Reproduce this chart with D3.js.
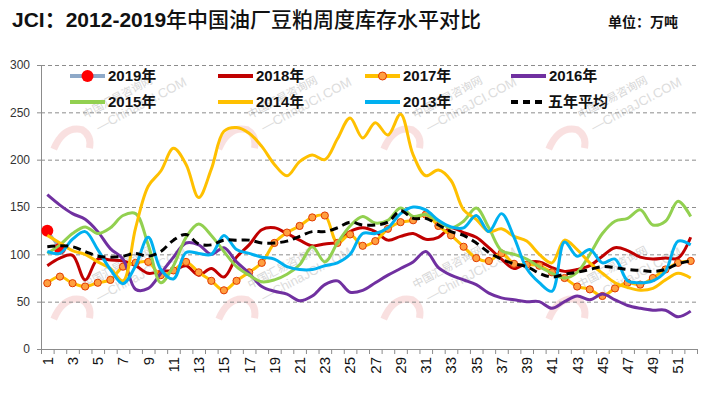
<!DOCTYPE html>
<html>
<head>
<meta charset="utf-8">
<script src="https://cdn.jsdelivr.net/npm/d3@7"></script>
<style>
  html, body { margin: 0; padding: 0; background: #fff; }
  svg { display: block; }
</style>
</head>
<body>
<div id="chart"></div>
<script>
const weeks = [1, 2, 3, 4, 5, 6, 7, 8, 9, 10, 11, 12, 13, 14, 15, 16, 17, 18, 19, 20,
  21, 22, 23, 24, 25, 26, 27, 28, 29, 30, 31, 32, 33, 34, 35, 36, 37, 38, 39, 40,
  41, 42, 43, 44, 45, 46, 47, 48, 49, 50, 51, 52];
const weekLabels = [1, 3, 5, 7, 9, 11, 13, 15, 17, 19, 21, 23, 25, 27, 29, 31, 33, 35, 37, 39, 41, 43, 45, 47, 49, 51];
const yTicks = [0, 50, 100, 150, 200, 250, 300];

const y2019 = [125, 106];
const y2018 = [88, 96, 99, 73, 95, 94, 93, 88, 80, 82, 83, 88, 78, 85, 76, 97, 110, 126, 128, 122,
  115, 109, 111, 113, 124, 128, 124, 115, 119, 122, 116, 118, 128, 123, 118, 107, 95, 85, 91, 92,
  86, 82, 84, 88, 98, 107, 104, 97, 95, 96, 96, 118];
const y2017 = [69.5, 76.5, 69.5, 66, 70, 73, 87, 91, 92, 78, 83, 92, 81, 72, 62, 72, 81, 91, 112, 123,
  130, 139, 141, 112, 121, 109, 114, 127, 134, 136, 142, 130, 120, 108, 96, 93, 101, 90, 89, 88,
  81, 75, 66, 63, 56, 64, 70, 68, 75, 84, 91, 93];
const y2016 = [163, 152, 143, 137, 124, 106, 95, 63, 64, 80, 97, 112, 110, 100, 107, 92, 80, 66, 61, 58,
  51, 56, 68, 72, 60, 62, 70, 78, 85, 92, 103, 86, 78, 73, 68, 59, 54, 52, 50, 50,
  43, 50, 56, 52, 58, 52, 46, 43, 41, 41, 34, 40];
const y2015 = [101, 110, 122, 129, 122, 128, 141, 143, 110, 70, 88, 118, 132, 120, 103, 87, 78, 71, 73, 79,
  89, 108, 92, 112, 130, 140, 133, 136, 149, 140, 142, 135, 128, 135, 149, 128, 104, 100, 95, 87,
  80, 75, 81, 100, 122, 135, 138, 147, 131, 135, 156, 140];
const y2014 = [120, 112, 104, 100, 92, 85, 72, 128, 172, 188, 212, 195, 160, 190, 230, 234, 228, 214, 195, 183,
  198, 205, 200, 222, 244, 223, 239, 226, 248, 205, 183, 189, 178, 147, 137, 124, 127, 119, 114, 100,
  91, 115, 105, 91, 80, 70, 65, 62, 64, 73, 80, 75];
const y2013 = [103, 101, 116, 124, 105, 84, 69, 88, 118, 84, 74, 102, 101, 100, 120, 105, 101, 97, 95, 87,
  84, 84, 88, 91, 100, 122, 122, 128, 143, 150, 147, 136, 129, 128, 141, 124, 143, 118, 85, 70,
  61, 113, 98, 105, 91, 95, 72, 70, 72, 82, 114, 110];
const yAvg = [108, 109, 108, 103, 98, 97, 98, 101, 98, 103, 115, 121, 111, 110, 115, 115, 115, 112, 112, 114,
  119, 124, 124, 128, 134, 131, 131, 134, 146, 138, 138, 131, 124, 120, 112, 102, 95, 90, 87, 80,
  76, 79, 81, 84, 87, 86, 84, 83, 82, 84, 90, 93];

const seriesNames = ['2019年', '2018年', '2017年', '2016年', '2015年', '2014年', '2013年', '五年平均'];

const W = 711, H = 397;
const plot = {left: 41, right: 697, top: 65, bottom: 349};
const latin = '"Liberation Sans", Arial, "Noto Sans CJK SC", sans-serif';
const cjk = '"Noto Sans CJK SC", "Liberation Sans", sans-serif';

const series = [
  {name: seriesNames[0], values: y2019, color: '#8EA9C8', width: 3, marker: 'big'},
  {name: seriesNames[1], values: y2018, color: '#C00000', width: 3},
  {name: seriesNames[2], values: y2017, color: '#FFC000', width: 3, marker: 'small'},
  {name: seriesNames[3], values: y2016, color: '#7030A0', width: 3},
  {name: seriesNames[4], values: y2015, color: '#92D050', width: 3},
  {name: seriesNames[5], values: y2014, color: '#FFC000', width: 3},
  {name: seriesNames[6], values: y2013, color: '#00B0F0', width: 3},
  {name: seriesNames[7], values: yAvg, color: '#000000', width: 3, dash: '8,5'}
];

const svg = d3.select('#chart').append('svg')
  .attr('width', W)
  .attr('height', H);

svg.append('rect').attr('width', W).attr('height', H).attr('fill', '#fff');

// faint site watermark
const wm = svg.append('g').attr('class', 'watermark');
[[70, 120], [235, 120], [400, 120], [565, 120], [70, 290], [235, 290], [400, 290], [565, 290]].forEach(p => {
  const g = wm.append('g').attr('transform', `translate(${p[0]},${p[1]}) rotate(-28)`);
  g.append('path')
    .attr('d', 'M-28,18 Q-8,2 6,14 Q12,24 4,34')
    .attr('fill', 'none')
    .attr('stroke', '#F4C6C6')
    .attr('stroke-width', 7)
    .attr('opacity', 0.55);
  g.append('text')
    .attr('x', 14).attr('y', 6)
    .attr('font-family', cjk).attr('font-size', 11)
    .attr('fill', '#d6d6d6')
    .text('中国汇易咨询网');
  g.append('text')
    .attr('x', 20).attr('y', 24)
    .attr('font-family', latin).attr('font-size', 13)
    .attr('fill', '#dcdcdc')
    .text('—ChinaJCI.COM');
});

// title
const title = svg.append('text').attr('x', 12).attr('y', 27).attr('font-size', 21).attr('fill', '#111');
title.append('tspan').attr('font-family', latin).attr('font-weight', 'bold').text('JCI：2012-2019');
title.append('tspan').attr('font-family', cjk).attr('font-weight', 500).text('年中国油厂豆粕周度库存水平对比');

svg.append('text')
  .attr('x', 608).attr('y', 27)
  .attr('font-family', cjk).attr('font-weight', 'bold').attr('font-size', 14)
  .attr('fill', '#111')
  .text('单位：万吨');

const x = d3.scaleBand()
  .domain(weeks)
  .range([plot.left, plot.right]);

const xb = d3.scaleLinear()
  .domain([0, weeks.length])
  .range([plot.left, plot.right]);

const y = d3.scaleLinear()
  .domain([0, 300])
  .range([plot.bottom, plot.top]);

// grid
svg.append('g')
  .attr('class', 'grid')
  .attr('transform', 'translate(' + plot.left + ',0)')
  .call(d3.axisLeft(y).tickValues(yTicks.slice(1)).tickSize(-(plot.right - plot.left)).tickFormat(''))
  .call(g => g.select('.domain').remove())
  .call(g => g.selectAll('line')
    .attr('stroke', '#8c8c8c')
    .attr('stroke-dasharray', '4,3'));

// y axis
svg.append('g')
  .attr('class', 'y-axis')
  .attr('transform', 'translate(' + plot.left + ',0)')
  .call(d3.axisLeft(y).tickValues(yTicks).tickSize(4).tickPadding(7))
  .call(g => g.select('.domain').attr('stroke', '#8c8c8c'))
  .call(g => g.selectAll('line').attr('stroke', '#8c8c8c'))
  .call(g => g.selectAll('text')
    .attr('font-family', latin)
    .attr('font-size', 12)
    .attr('fill', '#333'));

// x axis: boundary ticks
svg.append('g')
  .attr('class', 'x-axis')
  .attr('transform', 'translate(0,' + plot.bottom + ')')
  .call(d3.axisBottom(xb).tickValues(d3.range(0, weeks.length + 1)).tickSize(5).tickFormat('').tickSizeOuter(0))
  .call(g => g.select('.domain').attr('stroke', '#8c8c8c'))
  .call(g => g.selectAll('line').attr('stroke', '#8c8c8c'));

// x axis: rotated labels
svg.append('g')
  .attr('class', 'x-labels')
  .attr('transform', 'translate(0,' + plot.bottom + ')')
  .call(d3.axisBottom(x).tickValues(weekLabels).tickSize(0).tickPadding(0))
  .call(g => g.select('.domain').remove())
  .call(g => g.selectAll('text')
    .attr('font-family', latin)
    .attr('font-size', 15)
    .attr('fill', '#111')
    .attr('text-anchor', 'end')
    .attr('transform', 'rotate(-90)')
    .attr('x', -8)
    .attr('y', 0)
    .attr('dy', '0.36em'));

const cx = (d, i) => x(weeks[i]) + x.bandwidth() / 2;

const line = d3.line()
  .defined(d => d != null)
  .x(cx)
  .y(d => y(d))
  .curve(d3.curveCatmullRom.alpha(0.5));

series.forEach(s => {
  svg.append('path')
    .datum(s.values)
    .attr('fill', 'none')
    .attr('stroke', s.color)
    .attr('stroke-width', s.width)
    .attr('stroke-linejoin', 'round')
    .attr('stroke-dasharray', s.dash || null)
    .attr('d', line);

  if (s.marker) {
    svg.append('g').selectAll('circle')
      .data(s.values)
      .join('circle')
      .attr('cx', cx)
      .attr('cy', d => y(d))
      .attr('r', s.marker === 'big' ? 6 : 3.6)
      .attr('fill', s.marker === 'big' ? '#FF0000' : '#FF9F40')
      .attr('stroke', s.marker === 'big' ? '#FF0000' : '#E03A00')
      .attr('stroke-width', s.marker === 'big' ? 0 : 1);
  }
});

// legend
const legCols = [70, 218, 365, 511];
const legRows = [76, 102];
const legend = svg.append('g').attr('class', 'legend');
series.forEach((s, i) => {
  const lx = legCols[i % 4], ly = legRows[Math.floor(i / 4)];
  const g = legend.append('g').attr('transform', `translate(${lx},${ly})`);
  g.append('line')
    .attr('x1', 0).attr('x2', s.dash ? 32 : 35)
    .attr('stroke', s.color)
    .attr('stroke-width', 4)
    .attr('stroke-dasharray', s.dash ? '7,5' : null);
  if (s.marker) {
    g.append('circle')
      .attr('cx', 17.5)
      .attr('r', s.marker === 'big' ? 6 : 4)
      .attr('fill', s.marker === 'big' ? '#FF0000' : '#FF9F40')
      .attr('stroke', s.marker === 'big' ? 'none' : '#E03A00')
      .attr('stroke-width', 1);
  }
  g.append('text')
    .attr('x', s.dash ? 37 : 38)
    .attr('dy', '0.36em')
    .attr('font-family', latin)
    .attr('font-weight', 'bold')
    .attr('font-size', 15)
    .attr('fill', '#111')
    .text(s.name);
});
</script>
</body>
</html>
